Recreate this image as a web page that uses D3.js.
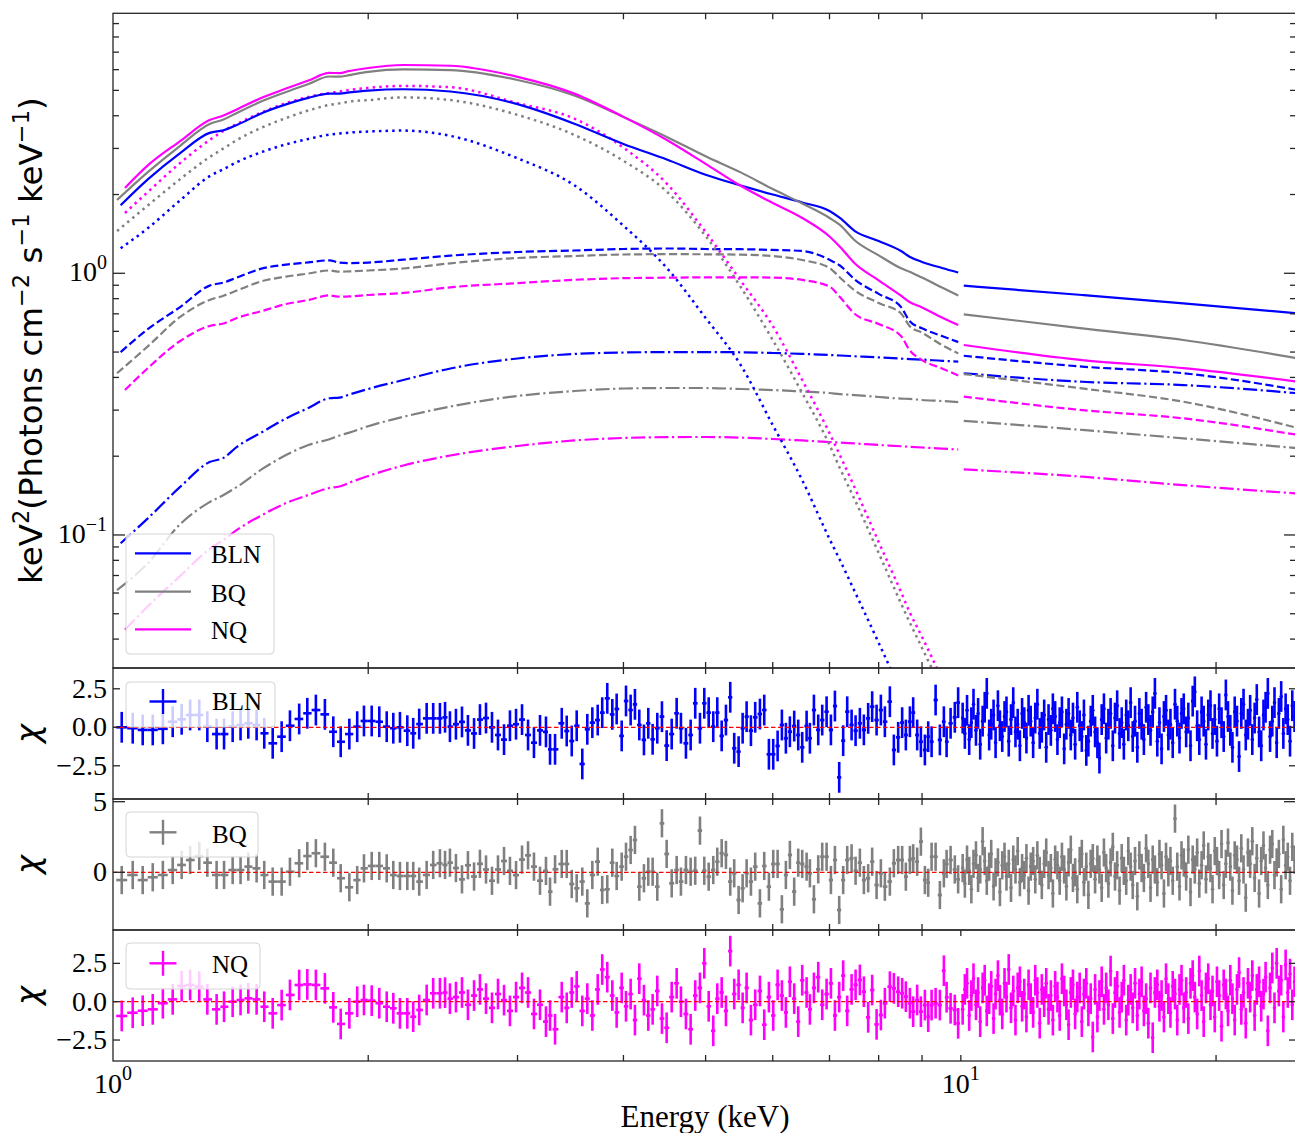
<!DOCTYPE html>
<html>
<head>
<meta charset="utf-8">
<script src="https://cdn.jsdelivr.net/npm/d3@7"></script>
<style>
  html, body { margin: 0; padding: 0; background: #ffffff; }
  svg { display: block; }
</style>
</head>
<body>
<svg id="chart" width="1295" height="1133"></svg>
<script>
// ------------------------------------------------------------------
// Spectral models (keV^2 photons cm^-2 s^-1 keV^-1) for three states
// ------------------------------------------------------------------
const sources = ["BLN", "BQ", "NQ"];
const sourceColors = ["#0000ff", "#808080", "#ff00ff"];
const modelStartE = [1.021, 1.011, 1.033];          // first model energy per state
const modelGridSoft = [1.1, 1.2, 1.3, 1.35, 1.4, 1.5, 1.6, 1.7, 1.8, 1.85, 1.9, 2.0, 2.2, 2.5, 3.0,
  3.5, 4.0, 4.5, 5.0, 5.5, 6.0, 6.5, 7.0, 7.2, 7.5, 8.0, 8.5, 8.7, 9.0, 9.5, 9.93];
const modelGridHard = [10.08, 13.9, 18.3, 25.0];

// BLN
const blnTotal = [1.82, 2.29, 2.88, 3.44, 3.52, 3.69, 4.10, 4.42, 4.68, 4.86, 4.86, 4.91, 4.99, 5.05, 4.95, 4.43,
  3.73, 3.12, 2.72, 2.38, 2.165, 2.00, 1.865, 1.73, 1.627, 1.45, 1.329, 1.217, 1.157, 1.105, 1.048, 1.007];
const blnThermal = [1.246, 1.49, 1.90, 2.35, 2.50, 2.66, 2.91, 3.11, 3.26, 3.39, 3.42, 3.45, 3.48, 3.51, 3.35, 2.75,
  2.17, 1.52, 1.048, 0.675, 0.446, 0.263, 0.162, 0.0966, 0.0802, 0.0606, 0.0387, 0.0251, 0.0211, 0.0165, 0.011, 0.008];
const blnComptA = [0.50, 0.613, 0.743, 0.897, 0.922, 0.963, 1.044, 1.079, 1.10, 1.121, 1.098, 1.094, 1.099, 1.127, 1.168, 1.206,
  1.222, 1.238, 1.244, 1.238, 1.236, 1.228, 1.217, 1.126, 1.071, 0.946, 0.834, 0.743, 0.657, 0.616, 0.576, 0.546];
const blnComptB = [0.093, 0.116, 0.1526, 0.190, 0.197, 0.217, 0.2475, 0.2787, 0.3057, 0.333, 0.335, 0.344, 0.3613, 0.391, 0.4327, 0.4726,
  0.4916, 0.498, 0.50, 0.50, 0.499, 0.496, 0.492, 0.4875, 0.485, 0.482, 0.477, 0.472, 0.470, 0.468, 0.463, 0.46];
const blnTotalHard = [0.897, 0.826, 0.768, 0.703];
const blnComptAHard = [0.484, 0.44, 0.415, 0.358];
const blnComptBHard = [0.415, 0.385, 0.374, 0.348];

// BQ
const bqTotal = [1.905, 2.44, 3.07, 3.72, 3.87, 4.10, 4.55, 4.93, 5.29, 5.65, 5.64, 5.72, 5.88, 6.01, 5.98, 5.48,
  4.78, 3.96, 3.32, 2.80, 2.43, 2.10, 1.848, 1.627, 1.53, 1.334, 1.171, 1.045, 1.014, 0.963, 0.882, 0.823];
const bqThermal = [1.45, 1.82, 2.29, 2.78, 3.00, 3.23, 3.61, 3.92, 4.19, 4.40, 4.46, 4.53, 4.59, 4.70, 4.59, 4.03,
  3.38, 2.69, 2.05, 1.388, 0.886, 0.556, 0.349, 0.221, 0.180, 0.136, 0.0853, 0.0548, 0.0465, 0.037, 0.0255, 0.018];
const bqComptA = [0.415, 0.527, 0.681, 0.791, 0.821, 0.859, 0.934, 0.971, 0.998, 1.025, 1.014, 1.017, 1.025, 1.043, 1.092, 1.144,
  1.164, 1.18, 1.183, 1.182, 1.178, 1.164, 1.124, 1.048, 0.964, 0.859, 0.770, 0.702, 0.629, 0.593, 0.532, 0.494];
const bqComptB = [0.0616, 0.0782, 0.110, 0.1335, 0.1422, 0.1526, 0.1788, 0.202, 0.2208, 0.2323, 0.24, 0.246, 0.2604, 0.2828, 0.3097, 0.3397,
  0.3549, 0.3628, 0.3644, 0.3644, 0.3612, 0.358, 0.3532, 0.3487, 0.3455, 0.3425, 0.3367, 0.332, 0.331, 0.328, 0.325, 0.322];
const bqTotalHard = [0.697, 0.616, 0.556, 0.473];
const bqComptAHard = [0.412, 0.363, 0.323, 0.256];
const bqComptBHard = [0.273, 0.252, 0.234, 0.2145];

// NQ
const nqTotal = [2.12, 2.59, 3.20, 3.85, 4.01, 4.23, 4.70, 5.08, 5.45, 5.83, 5.82, 5.93, 6.09, 6.25, 6.21, 5.63,
  4.86, 3.96, 3.23, 2.62, 2.16, 1.856, 1.627, 1.382, 1.264, 1.090, 0.940, 0.821, 0.777, 0.740, 0.678, 0.634];
const nqThermal = [1.70, 2.05, 2.64, 3.23, 3.50, 3.72, 4.13, 4.47, 4.72, 4.89, 4.95, 5.02, 5.11, 5.20, 5.14, 4.47,
  3.90, 3.02, 2.20, 1.438, 0.937, 0.629, 0.391, 0.245, 0.202, 0.151, 0.094, 0.0606, 0.0508, 0.0408, 0.0279, 0.0195];
const nqComptA = [0.358, 0.435, 0.551, 0.629, 0.643, 0.675, 0.718, 0.763, 0.791, 0.823, 0.814, 0.816, 0.826, 0.841, 0.884, 0.917,
  0.944, 0.958, 0.962, 0.965, 0.965, 0.963, 0.943, 0.890, 0.812, 0.699, 0.640, 0.576, 0.509, 0.466, 0.433, 0.407];
const nqComptB = [0.0434, 0.0535, 0.0697, 0.0884, 0.0957, 0.1045, 0.1193, 0.1325, 0.1422, 0.1512, 0.1532, 0.1584, 0.168, 0.1843, 0.2012, 0.2188,
  0.2297, 0.2348, 0.2365, 0.2368, 0.2355, 0.2327, 0.2297, 0.2266, 0.2254, 0.2237, 0.2208, 0.2183, 0.2173, 0.2159, 0.2138, 0.2121];
const nqTotalHard = [0.532, 0.466, 0.434, 0.385];
const nqComptAHard = [0.338, 0.300, 0.279, 0.241];
const nqComptBHard = [0.178, 0.167, 0.155, 0.144];

// ------------------------------------------------------------------
// Fit residuals (chi) on the soft and hard channel grids (keV)
// ------------------------------------------------------------------
const softBins = [1.024, 1.055, 1.084, 1.114, 1.145, 1.176, 1.205, 1.233, 1.264, 1.292, 1.325, 1.352, 1.384, 1.414, 1.444,
  1.477, 1.508, 1.543, 1.581, 1.617, 1.658, 1.695, 1.735, 1.778, 1.819, 1.856, 1.900, 1.941, 1.977, 2.019, 2.061, 2.103,
  2.141, 2.180, 2.224, 2.260, 2.297, 2.344, 2.386, 2.430, 2.464, 2.497,
  2.538, 2.580, 2.622, 2.666, 2.709, 2.754, 2.799, 2.845, 2.892, 2.939, 2.988, 3.037, 3.087, 3.137, 3.189, 3.241,
  3.277, 3.322, 3.383, 3.429, 3.476, 3.523, 3.577, 3.626, 3.676, 3.730, 3.776, 3.828, 3.881, 3.927, 3.981, 4.028,
  4.079, 4.127, 4.176, 4.229, 4.279, 4.330, 4.385, 4.441, 4.498, 4.560, 4.622, 4.676, 4.740, 4.801, 4.861, 4.924,
  4.982, 5.042, 5.105, 5.161, 5.223, 5.284, 5.346, 5.404, 5.469, 5.529, 5.589, 5.655, 5.721, 5.795, 5.863, 5.938,
  6.008, 6.080, 6.151, 6.218, 6.286, 6.360, 6.430, 6.500, 6.578, 6.637, 6.710, 6.789, 6.863, 6.945, 7.027, 7.104,
  7.187, 7.265, 7.345, 7.433, 7.514, 7.602, 7.685, 7.775, 7.860, 7.955, 8.048, 8.136, 8.247, 8.337, 8.435, 8.527,
  8.613, 8.708, 8.786, 8.882, 8.972, 9.070, 9.152, 9.237, 9.338, 9.447, 9.550, 9.621, 9.726, 9.838, 9.927];

const hardBins = [10.05, 10.11, 10.17, 10.23, 10.29, 10.35, 10.42, 10.48, 10.54, 10.61,
  10.67, 10.73, 10.80, 10.86, 10.93, 10.99, 11.06, 11.12, 11.19, 11.26,
  11.32, 11.39, 11.46, 11.53, 11.60, 11.67, 11.74, 11.81, 11.88, 11.95,
  12.02, 12.09, 12.17, 12.24, 12.31, 12.39, 12.46, 12.54, 12.61, 12.69,
  12.77, 12.84, 12.92, 13.00, 13.08, 13.16, 13.24, 13.32, 13.40, 13.48,
  13.56, 13.64, 13.72, 13.81, 13.89, 13.97, 14.06, 14.14, 14.23, 14.31,
  14.40, 14.49, 14.57, 14.66, 14.75, 14.84, 14.93, 15.02, 15.11, 15.20,
  15.29, 15.39, 15.48, 15.57, 15.67, 15.76, 15.86, 15.95, 16.05, 16.15,
  16.24, 16.34, 16.44, 16.54, 16.64, 16.74, 16.84, 16.94, 17.05, 17.15,
  17.25, 17.36, 17.46, 17.57, 17.67, 17.78, 17.89, 18.00, 18.11, 18.21,
  18.32, 18.44, 18.55, 18.66, 18.77, 18.88, 19.00, 19.11, 19.23, 19.34,
  19.46, 19.58, 19.70, 19.81, 19.93, 20.05, 20.17, 20.30, 20.42, 20.54,
  20.66, 20.79, 20.91, 21.04, 21.17, 21.29, 21.42, 21.55, 21.68, 21.81,
  21.94, 22.07, 22.21, 22.34, 22.48, 22.61, 22.75, 22.88, 23.02, 23.16,
  23.30, 23.44, 23.58, 23.72, 23.87, 24.01, 24.16, 24.30, 24.45, 24.60, 24.75];

const chiBLNsoft = [0, -0.06, -0.17, -0.17, -0.1, 0.36, 0.52, 0.8, 0.8, 0.04, -0.44, -0.44, 0.04, 0.15, 0.26, 0.15,
  -0.39, -1.04, -0.61, 0.1, 0.54, 0.91, 1.12, 0.84, -0.29, -0.94, -0.44, 0.04, 0.41, 0.41, 0.36, 0.04, -0.06, 0,
  -0.22, -0.39, 0.21, 0.58, 0.58, 0.58, 0.65, 0.04,
  0.2, 0.35, -0.2, -0.4, 0.5, 0.6, 0.0, -0.5, -0.8, 0.1, 0.2, 0.5, -0.5, -1.0, -0.2, -0.3,
  -1.43, -1.43, 0.26, -0.24, -0.89, 0.1, -2.38, -0.13, 0.3, 0.47, 0.95, 1.88, 0.84, 1.19, -0.56, 1.71, 1.12, 1.49,
  0.15, -0.82, 0.26, -0.78, -0.06, 0.69, -1.19, -0.44, 0.91, -0.06, -1.04, -0.5, 1.56, -0.06, 1.56, 0.95, 0.04, 0.95,
  -0.56, 0.47, 1.95, -1.36, -1.58, -0.06, 0.69, -0.22, 0.65, 0.86, 1.12, -1.75, -1.75, -1.21, 0.15, -0.71, -0.29,
  0.08, -0.5, -1.3, 0.08, -0.71, 1.12, -0.17, 0.47, 1.01, -0.17, 1.38, -3.25, -0.87, 1.01, 0.15, -0.22, 0.26, -0.17,
  0.58, 1.34, 0.47, 1.12, 0.36, 1.66, -1.47, -0.65, 0.3, -0.5, 0.36, 0.95, -0.5, -0.94, -1.47, -0.61, -0.94, 1.77,
  -0.82, 0.36, -0.94, 0.26, 0.65, 1.6];
const chiBLNhard = [0.6, -0.4, 1.1, -0.8, 0.3, 1.5, -0.2, 0.9, -1.1, 0.4,
  1.3, 2.2, -0.5, 0.2, 0.8, -1.0, 1.4, 0.1, -0.6, 0.7,
  1.0, -0.9, 0.5, 1.6, -0.3, 0.2, -1.2, 0.9, 0.3, -0.7,
  1.1, 0.4, -1.0, 0.6, 1.5, -0.4, 0.0, 0.8, -1.3, 0.5,
  -0.2, 1.2, 0.7, -0.8, 0.3, 1.0, -1.4, 0.2, 0.9, -0.5,
  0.6, -1.1, 1.3, 0.1, -0.6, 0.8, -1.5, -0.9, 0.4, 1.1,
  -0.3, -1.0, -2.0, 0.5, 1.2, -0.7, 0.2, 0.9, -1.2, 0.6,
  1.4, -0.4, 0.3, -1.1, 0.8, 0.1, 1.6, -0.6, 0.4, -1.3,
  0.9, 0.2, -0.8, 1.3, 0.5, -0.2, 1.0, 2.2, -0.9, 0.3,
  -1.4, 0.7, 1.1, -0.5, 0.2, -1.0, 1.5, 0.4, -0.7, 0.9,
  1.2, -0.3, 0.6, -1.2, 1.7, 2.3, 0.1, -0.8, 1.0, 0.4,
  -1.1, 0.8, 1.4, -0.4, 0.5, -0.9, 1.2, 0.3, -0.6, 2.1,
  0.7, -0.2, -1.3, 1.0, 0.4, -1.9, 0.9, 1.5, -0.5, 0.2,
  1.1, -0.8, 0.6, 1.8, -0.3, -1.2, 0.8, 1.3, 2.2, -0.6,
  0.4, 1.6, -1.0, 0.9, 2.0, -0.4, 1.2, 0.5, -0.9, 1.4, 0.7];

const chiBQsoft = [-0.55, -0.19, -0.55, -0.35, -0.19, 0.16, 0.52, 0.87, 1.15, 0.68, -0.19, -0.19, 0.16, 0.16, 0.4, 0.28,
  -0.19, -0.66, -0.66, 0.04, 0.64, 1.15, 1.35, 1.1, 0.68, -0.42, -1.06, -0.55, 0.28, 0.45, 0.45, 0.28, -0.19, -0.26,
  -0.26, -0.26, -0.66, -0.19, 0.52, 0.64, 0.52, 0.68,
  0.3, -0.5, 0.5, -0.3, 0.6, 0.2, -0.6, 0.2, 0.8, 0.1, -0.2, 0.9, 1.2, 0.4, -0.6, 0.1,
  -1.37, 0.21, 0.59, 0.59, -0.83, -1.13, -0.66, -2.2, -0.19, 0.75, -1.25, -1.2, 0.68, -0.26, 0.4, 1.1, 1.58, 2.29,
  -1.02, -0.42, 0.04, 0.04, -1.02, 3.47, 1.3, -0.78, 0.16, -0.66, 0.16, 0.04, 0.11, 2.95, 0.11, -0.31, 0.16, 0.75,
  1.35, 1.23, -0.66, -0.07, -1.96, -1.13, -0.07, -0.66, 0.4, -2.2, 0.45, -1.02, 0.59, 0.59, -2.62, -0.19, 1.23,
  -1.37, 0.68, 0.59, 0.4, -0.07, -1.91, 0.21, 1.1, 1.1, -0.55, 0.87, -2.67, -0.55, 0.87, 0.99, 0.11, 0.68, -0.55,
  -0.42, 0.75, -0.9, -0.07, -1.02, -0.66, 0.64, 0.87, 0.87, -0.31, 0.87, 0.99, 0.75, 2.17, -0.55, -0.74, 1.1, 1.1,
  -1.61, -0.07, 0.59, 0.87, 0.2, -0.5];
const chiBQhard = [0.3, -0.8, 0.9, 0.1, -1.2, 0.6, 1.2, -0.4, 0.2, 2.2,
  0.8, -0.6, 0.4, 1.3, -1.0, 0.0, 0.7, -1.4, 0.5, 1.1,
  -0.3, 0.6, -1.1, 0.9, 0.2, 1.5, -0.7, 0.3, -0.2, 1.0,
  -1.3, 0.4, 0.8, -0.5, 1.2, 0.1, -0.9, 0.6, 1.4, -0.2,
  0.3, -1.5, 0.9, 0.5, -0.6, 1.1, 0.2, -1.0, 0.7, 1.6,
  -0.4, 0.0, -1.2, 0.8, 1.3, -0.7, 0.4, -1.6, 0.6, 1.0,
  -0.5, 0.9, 0.2, -1.1, 1.4, 0.3, -0.8, 0.7, 1.8, -0.3,
  0.5, -1.3, 1.0, 0.1, -0.6, 1.5, 0.4, -0.9, 0.8, -1.7,
  1.2, 0.3, -0.4, 1.7, 0.6, -1.1, 0.9, 0.2, -0.7, 1.3,
  0.5, -1.5, 1.1, 0.0, 0.8, -0.6, 3.8, 0.4, -1.0, 1.2,
  0.7, -0.3, 1.6, -1.4, 0.9, 0.2, 1.4, -0.8, 0.5, 1.9,
  -0.5, 1.1, 0.3, -1.2, 1.5, 0.8, -0.2, 2.0, -0.9, 0.6,
  2.1, 0.4, -1.3, 1.2, 0.9, -0.6, 1.7, 0.2, -1.8, 1.4,
  0.6, 2.2, -0.4, 1.0, -1.5, 0.8, 1.9, 0.3, -0.9, 1.6,
  2.0, -0.2, 0.7, 1.3, -1.2, 2.3, 0.5, 1.1, -0.6, 1.8, 0.9];

const chiNQsoft = [-0.93, -0.72, -0.59, -0.5, -0.1, 0.15, 1.02, 1.09, 0.98, 0.15, -0.5, -0.33, 0, 0.11, 0.22, 0.15,
  -0.33, -0.76, -0.22, 0.44, 1.09, 1.13, 1.09, 0.87, -0.37, -1.45, -0.76, 0, 0.11, 0.07, -0.1, -0.33, -0.43, -0.76,
  -0.76, -0.98, -0.54, 0.11, 0.55, 0.55, 0.59, 0.2,
  0.3, 0.6, -0.2, 0.4, 0.8, 0.2, -0.4, 0.5, 0.1, -0.6, 0.3, 0.9, 0.6, -0.8, -0.2, -1.3,
  -0.9, -1.8, 0.3, -0.4, 0.6, 1.0, -0.6, 0.2, -0.9, 0.8, 2.1, 1.6, 0.4, -0.7, 0.9, -0.3, 0.5, -1.2, 1.5, 0.1,
  -0.9, -0.5, 0.7, -1.1, -1.7, 0.3, 1.2, 0.0, -0.8, -1.8, 0.4, 0.9, 2.5, -0.3, -1.9, 0.2, 0.6, -0.6, 3.3, 0.5,
  1.1, -0.4, 0.9, -1.2, -0.2, 0.7, -1.5, 0.3, -0.9, 1.1, 0.4, -0.7, 1.3, 0.2, -1.3, 1.4, 0.6, -0.5, 0.9, 1.6,
  -0.2, 0.5, 1.2, -0.9, 0.3, 1.7, -0.6, 0.8, 1.1,
  1.42, 0.65, -1.02, 0.76, -1.48, -0.87, -0.1, 0.98, 0.87, 0.65, 0.55, 0.33, -0.1, -0.65, 0.11, -0.65, -0.22,
  -0.98, -0.22, -0.1, -0.22, 2.02, 0.29, -0.43, -0.54, -1.41];
const chiNQhard = [-0.5, 0.8, 1.2, -0.9, 0.4, 1.5, -0.2, 0.6, -1.3, 0.9,
  1.4, -0.6, 0.2, 1.0, -1.1, 0.5, 1.7, 0.1, -0.8, 1.2,
  0.3, 2.1, -0.4, 0.7, -1.2, 0.9, 1.3, -0.3, 0.5, -1.0,
  1.1, 0.2, -0.7, 1.4, 0.6, -1.4, 0.8, 0.0, 1.2, -0.5,
  0.4, -1.2, 1.0, 0.3, -0.9, 1.5, 0.7, -0.2, -1.5, 0.6,
  1.1, -0.8, 0.3, 0.9, -1.3, 0.5, 1.2, -0.6, 0.2, -2.3,
  0.8, -1.0, 0.4, 1.3, -0.5, 0.9, -0.2, 2.0, -1.1, 0.6,
  1.0, -0.7, 0.3, 1.4, -1.2, 0.1, 0.8, -0.4, 1.2, -0.9,
  0.5, 1.3, -0.6, 0.2, -1.4, 0.9, -2.35, 0.6, 1.1, -0.3,
  0.4, -1.0, 1.5, 0.2, -0.7, 1.0, 0.5, -1.2, 0.8, 1.4,
  -0.4, 0.6, -1.1, 1.2, 1.7, 0.3, -0.8, 2.0, 0.4, -1.3,
  0.9, 1.5, -0.2, 0.7, -1.0, 1.3, 0.4, -1.6, 1.1, 0.5,
  -0.6, 1.4, 0.2, -1.2, 0.8, 1.9, -0.5, 0.6, -1.4, 1.2,
  0.3, 1.7, -0.9, 0.8, 1.3, -0.3, 0.5, 1.6, -1.9, 0.9,
  2.2, -0.4, 2.5, 0.7, 1.4, -1.0, 2.4, 0.6, 1.8, -0.2, 1.3];

// Axis tick values
const xMinorTicks = [2, 3, 4, 5, 6, 7, 8, 9, 20];
const yMajorTicks = [0.1, 1];
const yMinorTicks = [0.04, 0.05, 0.06, 0.07, 0.08, 0.09, 0.2, 0.3, 0.4, 0.5, 0.6, 0.7, 0.8, 0.9, 2, 3, 4, 5, 6, 7, 8, 9];

// ------------------------------------------------------------------
// Layout
// ------------------------------------------------------------------
const svg = d3.select("#chart");
const X0 = 113, X1 = 1296;
const mainTop = 13.3, mainBot = 668;
const x = d3.scaleLog().domain([1, 24.85]).range([X0, X1]);
const y = d3.scaleLog().domain([0.03102, 9.852]).range([mainBot, mainTop]);

const SERIF = "'Liberation Serif', 'Times New Roman', serif";
const SANS = "'DejaVu Sans', sans-serif";
const axisColor = "#262626";
const lw = 2.2;
const dotLw = 2.5;
const dashStyles = {
  total: null,
  thermal: `${dotLw},${(1.65 * dotLw).toFixed(2)}`,
  comptA: `${(3.7 * lw).toFixed(2)},${(1.6 * lw).toFixed(2)}`,
  comptB: `${(6.4 * lw).toFixed(2)},${(1.6 * lw).toFixed(2)},${lw},${(1.6 * lw).toFixed(2)}`
};

const residualPanels = [
  { name: "BLN", top: 668, bot: 799, domain: [-4.656, 3.85], ticks: [-2.5, 0, 2.5], labels: ["\u22122.5", "0.0", "2.5"],
    tickLen: 7, soft: chiBLNsoft, hard: chiBLNhard, color: sourceColors[0],
    legend: { x: 126, y: 682, w: 149, h: 45, my: 701.5, ty: 710 } },
  { name: "BQ", top: 799, bot: 930, domain: [-4.086, 5.19], ticks: [0, 5], labels: ["0", "5"],
    tickLen: 12, soft: chiBQsoft, hard: chiBQhard, color: sourceColors[1],
    legend: { x: 126, y: 812, w: 132, h: 45, my: 832.3, ty: 842.7 } },
  { name: "NQ", top: 930, bot: 1061, domain: [-3.868, 4.677], ticks: [-2.5, 0, 2.5], labels: ["\u22122.5", "0.0", "2.5"],
    tickLen: 7, soft: chiNQsoft, hard: chiNQhard, color: sourceColors[2],
    legend: { x: 126, y: 943, w: 134, h: 46, my: 963.3, ty: 972.7 } }
];

const defs = svg.append("defs");
function addClip(id, top, bot) {
  defs.append("clipPath").attr("id", id)
    .append("rect").attr("x", X0).attr("y", top).attr("width", X1 - X0).attr("height", bot - top);
}
addClip("clip-main", mainTop, mainBot);
residualPanels.forEach((p, i) => addClip("clip-res" + i, p.top, p.bot));

// ------------------------------------------------------------------
// Main panel: model components
// ------------------------------------------------------------------
const models = [
  { total: blnTotal, thermal: blnThermal, comptA: blnComptA, comptB: blnComptB,
    hard: { total: blnTotalHard, comptA: blnComptAHard, comptB: blnComptBHard } },
  { total: bqTotal, thermal: bqThermal, comptA: bqComptA, comptB: bqComptB,
    hard: { total: bqTotalHard, comptA: bqComptAHard, comptB: bqComptBHard } },
  { total: nqTotal, thermal: nqThermal, comptA: nqComptA, comptB: nqComptB,
    hard: { total: nqTotalHard, comptA: nqComptAHard, comptB: nqComptBHard } }
];

const line = d3.line().x(d => x(d[0])).y(d => y(d[1])).curve(d3.curveMonotoneX);
const gModels = svg.append("g").attr("clip-path", "url(#clip-main)");

// draw in back-to-front order: dash-dot, dashed, dotted, solid
const drawOrder = ["comptB", "comptA", "thermal", "total"];
drawOrder.forEach(comp => {
  models.forEach((m, i) => {
    const softE = [modelStartE[i]].concat(modelGridSoft);
    const softPts = softE.map((e, k) => [e, m[comp][k]]);
    const segs = [softPts];
    if (m.hard[comp]) segs.push(modelGridHard.map((e, k) => [e, m.hard[comp][k]]));
    segs.forEach(pts => {
      const path = gModels.append("path")
        .attr("d", line(pts))
        .attr("fill", "none")
        .attr("stroke", sourceColors[i])
        .attr("stroke-width", comp === "thermal" ? dotLw : lw)
        .attr("stroke-linecap", "butt")
        .attr("stroke-linejoin", "round");
      if (dashStyles[comp]) path.attr("stroke-dasharray", dashStyles[comp]);
    });
  });
});

// ------------------------------------------------------------------
// Residual panels
// ------------------------------------------------------------------
function binEdges(E) {
  return E.map((e, k) => {
    const prev = k > 0 ? E[k - 1] : e * e / E[k + 1];
    const next = k < E.length - 1 ? E[k + 1] : e * e / E[k - 1];
    return [Math.sqrt(prev * e), Math.sqrt(e * next)];
  });
}
const softEdges = binEdges(softBins);
const hardEdges = binEdges(hardBins);

residualPanels.forEach((p, i) => {
  const ys = d3.scaleLinear().domain(p.domain).range([p.bot, p.top]);
  p.ys = ys;
  const g = svg.append("g").attr("clip-path", `url(#clip-res${i})`);
  const pts = [];
  const nS = Math.min(softBins.length, p.soft.length);
  for (let k = 0; k < nS; k++) pts.push({ e: softBins[k], lo: softEdges[k][0], hi: softEdges[k][1], c: p.soft[k] });
  const nH = Math.min(hardBins.length, p.hard.length);
  for (let k = 0; k < nH; k++) pts.push({ e: hardBins[k], lo: hardEdges[k][0], hi: hardEdges[k][1], c: p.hard[k] });

  const bars = g.selectAll("g.pt").data(pts).enter().append("g").attr("class", "pt");
  bars.append("line")
    .attr("x1", d => x(d.e)).attr("x2", d => x(d.e))
    .attr("y1", d => ys(d.c - 1)).attr("y2", d => ys(d.c + 1))
    .attr("stroke", p.color).attr("stroke-width", 2.6);
  bars.append("line")
    .attr("x1", d => x(d.lo)).attr("x2", d => x(d.hi))
    .attr("y1", d => ys(d.c)).attr("y2", d => ys(d.c))
    .attr("stroke", p.color).attr("stroke-width", 2.6);
  bars.append("circle")
    .attr("cx", d => x(d.e)).attr("cy", d => ys(d.c)).attr("r", 1.8)
    .attr("fill", p.color);

  // zero reference
  svg.append("line")
    .attr("x1", X0).attr("x2", X1).attr("y1", ys(0)).attr("y2", ys(0))
    .attr("stroke", "#ff0000").attr("stroke-width", 1.2).attr("stroke-dasharray", "4.5,2.5");
});

// ------------------------------------------------------------------
// Axes, ticks, frames
// ------------------------------------------------------------------
const gAx = svg.append("g").attr("stroke", axisColor).attr("stroke-width", 1.3);

function xTicks(top, bot, withMajor) {
  xMinorTicks.forEach(t => {
    const px = x(t);
    gAx.append("line").attr("x1", px).attr("x2", px).attr("y1", top).attr("y2", top + 6);
    gAx.append("line").attr("x1", px).attr("x2", px).attr("y1", bot).attr("y2", bot - 6);
  });
  if (withMajor) {
    const px = x(10);
    gAx.append("line").attr("x1", px).attr("x2", px).attr("y1", top).attr("y2", top + 6);
    gAx.append("line").attr("x1", px).attr("x2", px).attr("y1", bot).attr("y2", bot - 6);
  }
}

// main panel
xTicks(mainTop, mainBot, false);
yMinorTicks.forEach(t => {
  const py = y(t);
  gAx.append("line").attr("x1", X0).attr("x2", X0 + 6).attr("y1", py).attr("y2", py);
  gAx.append("line").attr("x1", X1).attr("x2", X1 - 6).attr("y1", py).attr("y2", py);
});
yMajorTicks.forEach(t => {
  const py = y(t);
  gAx.append("line").attr("x1", X0).attr("x2", X0 + 12).attr("y1", py).attr("y2", py);
  gAx.append("line").attr("x1", X1).attr("x2", X1 - 12).attr("y1", py).attr("y2", py);
});

// main y tick labels (10^0, 10^-1)
const yLab = svg.append("g").attr("font-family", SERIF).attr("fill", "#000");
[[1, "0"], [0.1, "\u22121"]].forEach(([v, ex]) => {
  const t = yLab.append("text").attr("x", 107).attr("y", y(v) + 8).attr("text-anchor", "end").attr("font-size", 28);
  t.append("tspan").text("10");
  t.append("tspan").attr("dy", -12).attr("font-size", 20).text(ex);
});

// residual panels axes
residualPanels.forEach((p, i) => {
  xTicks(p.top, p.bot, i === residualPanels.length - 1);
  p.ticks.forEach((t, k) => {
    const py = p.ys(t);
    gAx.append("line").attr("x1", X0).attr("x2", X0 + p.tickLen).attr("y1", py).attr("y2", py);
    gAx.append("line").attr("x1", X1).attr("x2", X1 - p.tickLen).attr("y1", py).attr("y2", py);
    svg.append("text").attr("x", 107).attr("y", py + 9)
      .attr("text-anchor", "end").attr("font-family", SERIF).attr("font-size", 28)
      .attr("fill", "#000").text(p.labels[k]);
  });
  // chi label
  svg.append("text")
    .attr("transform", `translate(39,${(p.top + p.bot) / 2}) rotate(-90)`)
    .attr("text-anchor", "middle").attr("font-family", SANS).attr("font-style", "italic")
    .attr("font-size", 32).attr("fill", "#000").text("\u03c7");
});

// frames
[[mainTop, mainBot]].concat(residualPanels.map(p => [p.top, p.bot])).forEach(([t, b]) => {
  gAx.append("rect").attr("x", X0).attr("y", t).attr("width", X1 - X0).attr("height", b - t).attr("fill", "none");
});

// x tick labels
[[1, "0"], [10, "1"]].forEach(([v, ex]) => {
  const t = svg.append("text").attr("x", x(v)).attr("y", 1093).attr("text-anchor", "middle")
    .attr("font-family", SERIF).attr("font-size", 28).attr("fill", "#000");
  t.append("tspan").text("10");
  t.append("tspan").attr("dy", -13).attr("font-size", 20).text(ex);
});

// axis titles
svg.append("text").attr("x", 705).attr("y", 1127).attr("text-anchor", "middle")
  .attr("font-family", SERIF).attr("font-size", 31).attr("fill", "#000").text("Energy (keV)");

const yt = svg.append("text")
  .attr("transform", `translate(42,${(mainTop + mainBot) / 2}) rotate(-90)`)
  .attr("text-anchor", "middle").attr("font-family", SANS).attr("font-size", 32.5).attr("fill", "#000");
yt.append("tspan").text("keV");
yt.append("tspan").attr("dy", -13).attr("font-size", 22.5).text("2");
yt.append("tspan").attr("dy", 13).text("(Photons cm");
yt.append("tspan").attr("dy", -13).attr("font-size", 22.5).text("\u22122");
yt.append("tspan").attr("dy", 13).text(" s");
yt.append("tspan").attr("dy", -13).attr("font-size", 22.5).text("\u22121");
yt.append("tspan").attr("dy", 13).text(" keV");
yt.append("tspan").attr("dy", -13).attr("font-size", 22.5).text("\u22121");
yt.append("tspan").attr("dy", 13).text(")");

// ------------------------------------------------------------------
// Legends
// ------------------------------------------------------------------
const legMain = svg.append("g");
legMain.append("rect").attr("x", 126).attr("y", 534).attr("width", 148).attr("height", 120)
  .attr("rx", 4).attr("fill", "#fff").attr("fill-opacity", 0.8).attr("stroke", "#d4d4d4").attr("stroke-width", 1);
[553.3, 591.7, 629.3].forEach((ly, i) => {
  legMain.append("line").attr("x1", 135).attr("x2", 191).attr("y1", ly).attr("y2", ly)
    .attr("stroke", sourceColors[i]).attr("stroke-width", lw);
  legMain.append("text").attr("x", 211).attr("y", ly + 10)
    .attr("font-family", SERIF).attr("font-size", 25).attr("fill", "#000").text(sources[i]);
});

residualPanels.forEach(p => {
  const L = p.legend;
  const g = svg.append("g");
  g.append("rect").attr("x", L.x).attr("y", L.y).attr("width", L.w).attr("height", L.h)
    .attr("rx", 4).attr("fill", "#fff").attr("fill-opacity", 0.8).attr("stroke", "#d4d4d4").attr("stroke-width", 1);
  g.append("line").attr("x1", 163).attr("x2", 163).attr("y1", L.my - 12.5).attr("y2", L.my + 12.5)
    .attr("stroke", p.color).attr("stroke-width", 2.4);
  g.append("line").attr("x1", 149.5).attr("x2", 176.5).attr("y1", L.my).attr("y2", L.my)
    .attr("stroke", p.color).attr("stroke-width", 2.4);
  g.append("text").attr("x", 212).attr("y", L.ty)
    .attr("font-family", SERIF).attr("font-size", 25).attr("fill", "#000").text(p.name);
});
</script>
</body>
</html>
